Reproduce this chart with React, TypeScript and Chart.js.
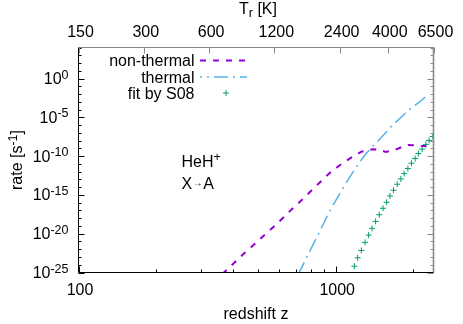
import React, { useEffect, useRef } from 'react';
import { Chart, registerables } from 'chart.js';

Chart.register(...registerables);

// ---- data ----
const zNonThermal = [362, 376, 411, 443, 484, 526, 574, 623, 678, 738, 803, 867, 945, 1040, 1140, 1258, 1391, 1477, 1568, 1644, 1723, 1814, 1913, 2018, 2143, 2250];
const rateNonThermal = [6.3e-26, 2.0e-25, 3.2e-24, 3.4e-23, 4.6e-22, 6.0e-21, 7.8e-20, 1.05e-18, 1.66e-17, 2.2e-16, 3.5e-15, 4.0e-14, 6.2e-13, 7.2e-12, 5.4e-11, 3.7e-10, 7.9e-10, 6.3e-10, 3.5e-10, 4.7e-10, 7.8e-10, 1.55e-9, 2.8e-9, 2.6e-9, 2.1e-9, 1.9e-9];

const zThermal = [714, 723, 756, 803, 852, 904, 945, 1004, 1049, 1097, 1182, 1254, 1315, 1384, 1500, 1663, 1931, 2111, 2227];
const rateThermal = [4.9e-26, 1.2e-25, 2.34e-24, 1.26e-22, 6.6e-21, 3.47e-19, 6.9e-18, 2.24e-16, 2.8e-15, 3.55e-14, 1.7e-12, 2.9e-11, 2.3e-10, 1.38e-9, 2.3e-8, 9.5e-7, 9.5e-5, 8.9e-4, 4.0e-3];

const zFitS08 = [1182, 1217, 1258, 1300, 1343, 1384, 1429, 1477, 1527, 1577, 1625, 1678, 1734, 1792, 1846, 1908, 1970, 2036, 2097, 2168, 2241, 2308, 2385];
const rateFitS08 = [6.5e-25, 7.8e-24, 6.9e-23, 7.6e-22, 6.6e-21, 4.9e-20, 3.9e-19, 2.8e-18, 1.9e-17, 1.12e-16, 7.4e-16, 4.0e-15, 2.4e-14, 1.15e-13, 5.6e-13, 2.5e-12, 1.23e-11, 4.9e-11, 2.2e-10, 8.0e-10, 3.2e-9, 1.04e-8, 3.4e-8];

const seriesLabels = ['non-thermal', 'thermal', 'fit by S08'];

const xRange = [100, 2400];
const xLabelTicks = [100, 1000];
const xMinorTicks = [200, 300, 400, 500, 600, 700, 800, 900, 2000];
const topRange = [150, 6500];
const topTicks = [150, 300, 600, 1200, 2400, 4000, 6500];
const yExpRange = [-25, 4];
const yLabelExps = [0, -5, -10, -15, -20, -25];

const xTitle = 'redshift z';
const yTitle = ['rate [s', '-1', ']'];
const topTitle = ['T', 'r', ' [K]'];
const note1 = ['HeH', '+'];
const note2 = ['X', '\u2192', 'A'];

const COLORS = ['#9400d3', '#56b4e9', '#009e73'];
const FONT = '"Liberation Sans", Arial, Helvetica, sans-serif';
const FS = 16;
const SFS = 12.5;

const overlay = {
  id: 'gnuplotOverlay',
  afterDraw(chart: any) {
    const ctx: CanvasRenderingContext2D = chart.ctx;
    const { left, right, top, bottom } = chart.chartArea;
    const sx = chart.scales.x;
    const sx2 = chart.scales.x2;
    const sy = chart.scales.y;
    const f = (s: number) => `${s}px ${FONT}`;
    ctx.save();

    // borders
    ctx.lineWidth = 1;
    ctx.strokeStyle = '#8a8a8a';
    ctx.beginPath();
    ctx.moveTo(left, top);
    ctx.lineTo(right, top);
    ctx.stroke();
    ctx.lineWidth = 1.6;
    ctx.beginPath();
    ctx.moveTo(right, top);
    ctx.lineTo(right, bottom);
    ctx.stroke();
    ctx.lineWidth = 1;
    ctx.strokeStyle = '#000';
    ctx.beginPath();
    ctx.moveTo(left, top);
    ctx.lineTo(left, bottom);
    ctx.lineTo(right, bottom);
    ctx.stroke();

    // y ticks (left black, right gray mirror)
    for (let e = yExpRange[0]; e <= yExpRange[1]; e++) {
      const py = Math.round(sy.getPixelForValue(Math.pow(10, e))) + 0.5;
      const major = e % 5 === 0;
      const len = major ? 6 : 3;
      ctx.strokeStyle = '#000';
      ctx.beginPath();
      ctx.moveTo(left, py);
      ctx.lineTo(left + len, py);
      ctx.stroke();
      ctx.strokeStyle = '#8a8a8a';
      ctx.beginPath();
      ctx.moveTo(right, py);
      ctx.lineTo(right - len, py);
      ctx.stroke();
    }
    // bottom ticks
    ctx.strokeStyle = '#000';
    for (const v of xLabelTicks) {
      const px = Math.round(sx.getPixelForValue(v)) + 0.5;
      ctx.beginPath();
      ctx.moveTo(px, bottom);
      ctx.lineTo(px, bottom - 6);
      ctx.stroke();
    }
    for (const v of xMinorTicks) {
      const px = Math.round(sx.getPixelForValue(v)) + 0.5;
      ctx.beginPath();
      ctx.moveTo(px, bottom);
      ctx.lineTo(px, bottom - 3);
      ctx.stroke();
    }
    // top ticks
    ctx.strokeStyle = '#8a8a8a';
    for (const v of topTicks) {
      const px = Math.round(sx2.getPixelForValue(v)) + 0.5;
      ctx.beginPath();
      ctx.moveTo(px, top);
      ctx.lineTo(px, top + 6);
      ctx.stroke();
    }

    ctx.fillStyle = '#000';
    ctx.textBaseline = 'alphabetic';

    // bottom labels
    ctx.font = f(FS);
    ctx.textAlign = 'center';
    for (const v of xLabelTicks) {
      ctx.fillText(String(v), sx.getPixelForValue(v) + 1.5, 294.5);
    }
    ctx.fillText(xTitle, (left + right) / 2, 318.5);
    // top labels
    for (const v of topTicks) {
      ctx.fillText(String(v), sx2.getPixelForValue(v) + 2, 37);
    }
    // top title with subscript
    ctx.textAlign = 'left';
    {
      ctx.font = f(FS);
      const w0 = ctx.measureText(topTitle[0]).width;
      const w2 = ctx.measureText(topTitle[2]).width;
      ctx.font = f(SFS);
      const w1 = ctx.measureText(topTitle[1]).width;
      const x0 = 258 - (w0 + w1 + w2) / 2;
      ctx.font = f(FS);
      ctx.fillText(topTitle[0], x0, 13.5);
      ctx.font = f(SFS);
      ctx.fillText(topTitle[1], x0 + w0, 17);
      ctx.font = f(FS);
      ctx.fillText(topTitle[2], x0 + w0 + w1, 13.5);
    }

    // y labels 10^e
    for (const e of yLabelExps) {
      const py = sy.getPixelForValue(Math.pow(10, e));
      const sup = String(e);
      ctx.font = f(FS);
      const wb = ctx.measureText('10').width;
      ctx.font = f(SFS);
      const ws = ctx.measureText(sup).width;
      const x0 = 68.5 - wb - ws;
      ctx.font = f(FS);
      ctx.fillText('10', x0, py + 5.5);
      ctx.font = f(SFS);
      ctx.fillText(sup, x0 + wb, py);
    }

    // y title rotated with superscript
    {
      ctx.font = f(FS);
      const w0 = ctx.measureText(yTitle[0]).width;
      const w2 = ctx.measureText(yTitle[2]).width;
      ctx.font = f(SFS);
      const w1 = ctx.measureText(yTitle[1]).width;
      ctx.save();
      ctx.translate(22, (top + bottom) / 2);
      ctx.rotate(-Math.PI / 2);
      const x0 = -(w0 + w1 + w2) / 2;
      ctx.font = f(FS);
      ctx.fillText(yTitle[0], x0, 0);
      ctx.font = f(SFS);
      ctx.fillText(yTitle[1], x0 + w0, -5.5);
      ctx.font = f(FS);
      ctx.fillText(yTitle[2], x0 + w0 + w1, 0);
      ctx.restore();
    }

    // annotation
    ctx.font = f(FS);
    const wh = ctx.measureText(note1[0]).width;
    ctx.fillText(note1[0], 181.5, 167);
    ctx.font = f(SFS);
    ctx.fillText(note1[1], 181.5 + wh, 161);
    {
      ctx.font = f(FS);
      const wx = ctx.measureText(note2[0]).width;
      ctx.fillText(note2[0], 181.5, 188.5);
      ctx.font = f(10);
      const wa = ctx.measureText(note2[1]).width;
      ctx.fillText(note2[1], 181.5 + wx + 0.5, 186);
      ctx.font = f(FS);
      ctx.fillText(note2[2], 181.5 + wx + wa + 1, 188.5);
    }

    // legend
    const rows = [60.5, 77, 93];
    ctx.textAlign = 'right';
    ctx.font = f(FS);
    seriesLabels.forEach((lab, i) => {
      ctx.fillStyle = '#000';
      ctx.fillText(lab, 194.5, rows[i] + 5.5);
    });
    const ds = chart.data.datasets;
    // non-thermal sample
    ctx.save();
    ctx.strokeStyle = ds[0].borderColor;
    ctx.lineWidth = ds[0].borderWidth;
    ctx.setLineDash(ds[0].borderDash);
    ctx.beginPath();
    ctx.moveTo(200, rows[0]);
    ctx.lineTo(247, rows[0]);
    ctx.stroke();
    // thermal sample
    ctx.strokeStyle = ds[1].borderColor;
    ctx.lineWidth = ds[1].borderWidth;
    ctx.setLineDash(ds[1].borderDash);
    ctx.lineDashOffset = 12;
    ctx.beginPath();
    ctx.moveTo(200, rows[1]);
    ctx.lineTo(247, rows[1]);
    ctx.stroke();
    ctx.restore();
    // fit sample
    ctx.strokeStyle = ds[2].pointBorderColor;
    ctx.lineWidth = 1;
    ctx.beginPath();
    ctx.moveTo(226 - 3, rows[2]);
    ctx.lineTo(226 + 3, rows[2]);
    ctx.moveTo(226, rows[2] - 3);
    ctx.lineTo(226, rows[2] + 3);
    ctx.stroke();

    ctx.restore();
  },
};

export default function App() {
  const ref = useRef<HTMLCanvasElement | null>(null);
  useEffect(() => {
    if (!ref.current) return;
    const mk = (xs: number[], ys: number[]) => xs.map((x, i) => ({ x, y: ys[i] }));
    const chart = new Chart(ref.current, {
      type: 'line',
      data: {
        datasets: [
          {
            label: seriesLabels[0],
            data: mk(zNonThermal, rateNonThermal),
            borderColor: COLORS[0],
            borderWidth: 2,
            borderDash: [6, 7],
            pointRadius: 0,
            tension: 0,
            fill: false,
          },
          {
            label: seriesLabels[1],
            data: mk(zThermal, rateThermal),
            borderColor: COLORS[1],
            borderWidth: 1.5,
            borderDash: [14, 5, 2, 5],
            pointRadius: 0,
            tension: 0,
            fill: false,
          },
          {
            label: seriesLabels[2],
            data: mk(zFitS08, rateFitS08),
            showLine: false,
            pointStyle: 'cross',
            pointRadius: 3,
            pointBorderWidth: 1,
            pointBorderColor: COLORS[2],
            borderColor: COLORS[2],
            backgroundColor: COLORS[2],
          },
        ],
      } as any,
      options: {
        animation: false,
        responsive: false,
        devicePixelRatio: 1,
        events: [],
        layout: { padding: { left: 0, right: 29.5, top: 0, bottom: 0 } },
        plugins: { legend: { display: false }, tooltip: { enabled: false } },
        scales: {
          x: {
            type: 'logarithmic',
            position: 'bottom',
            min: xRange[0],
            max: xRange[1],
            ticks: { display: false },
            grid: { display: false },
            border: { display: false },
            afterFit: (s: any) => { s.height = 51.5; },
          },
          x2: {
            type: 'logarithmic',
            axis: 'x',
            position: 'top',
            min: topRange[0],
            max: topRange[1],
            ticks: { display: false },
            grid: { display: false },
            border: { display: false },
            afterFit: (s: any) => { s.height = 47.5; },
          },
          y: {
            type: 'logarithmic',
            position: 'left',
            min: Math.pow(10, yExpRange[0]),
            max: Math.pow(10, yExpRange[1]),
            ticks: { display: false },
            grid: { display: false },
            border: { display: false },
            afterFit: (s: any) => { s.width = 78.5; },
          },
        },
      } as any,
      plugins: [overlay],
    });
    return () => chart.destroy();
  }, []);
  return (
    <div style={{ position: 'absolute', left: 0, top: 0, width: 463, height: 324, background: '#fff' }}>
      <canvas ref={ref} width={463} height={324} style={{ display: 'block' }} />
    </div>
  );
}
